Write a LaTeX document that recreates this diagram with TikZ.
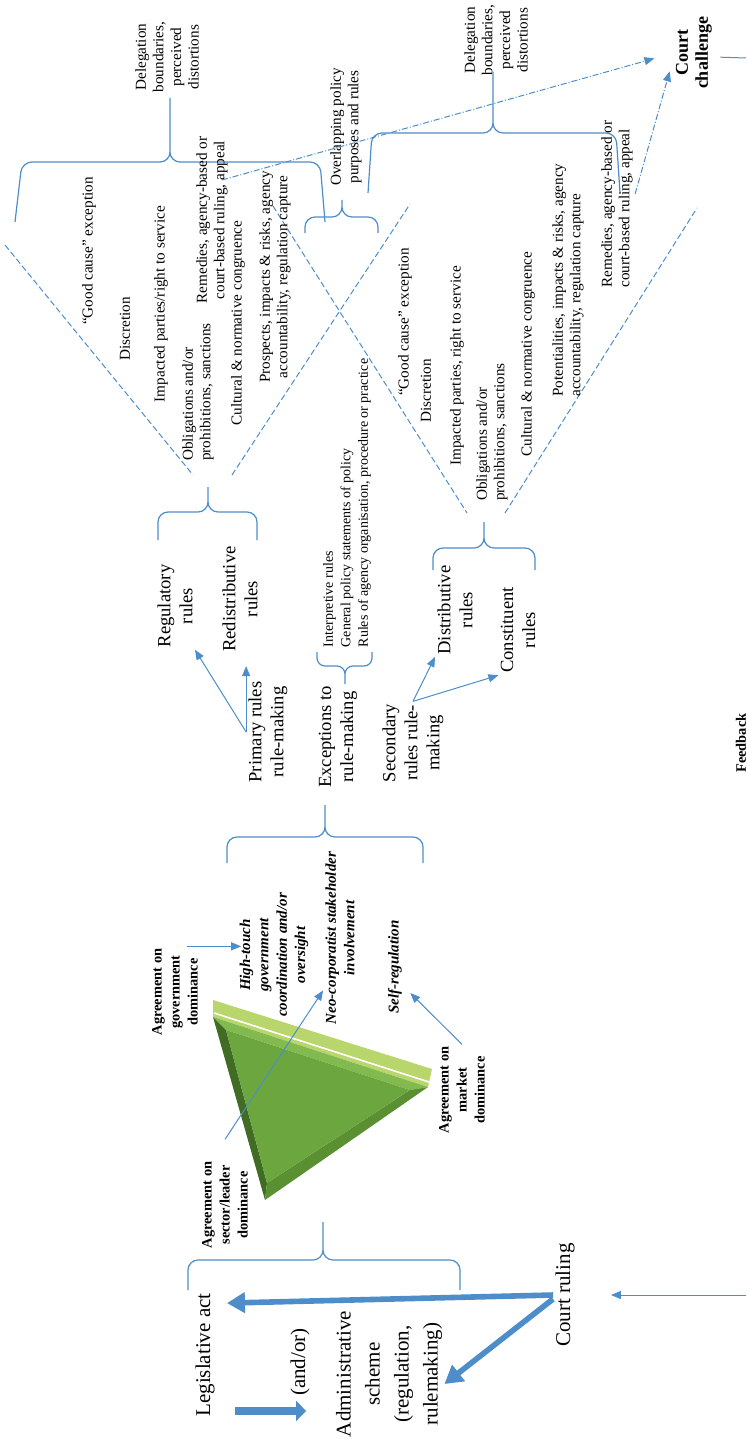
\documentclass[tikz,border=0pt]{standalone}
\usepackage{fontspec}
\setmainfont{Liberation Serif}
\usetikzlibrary{arrows.meta,calc}

\definecolor{lineblue}{RGB}{77,141,201}
\definecolor{stripgreen}{RGB}{184,214,108}
\definecolor{triface}{RGB}{108,166,62}
\definecolor{tritop}{RGB}{130,186,80}
\definecolor{trileft}{RGB}{64,108,36}
\definecolor{triright}{RGB}{90,144,50}

\tikzset{
  txt/.style={rotate=90, align=center, inner sep=1pt},
  txtbig/.style={txt, font=\fontsize{10.5}{14.5}\selectfont},
  txtmid/.style={txt, font=\fontsize{9.3}{11}\selectfont},
  txtsml/.style={txt, font=\fontsize{7.6}{8.8}\selectfont},
  txttiny/.style={txt, font=\fontsize{7}{8.7}\selectfont},
  txtagr/.style={txt, font=\bfseries\fontsize{7.2}{9}\selectfont},
  txtgov/.style={txt, font=\bfseries\itshape\fontsize{7.5}{9.2}\selectfont},
  txtchal/.style={txt, font=\bfseries\fontsize{9}{10}\selectfont},
  brc/.style={lineblue, line width=0.6pt, rounded corners=5pt},
  vline/.style={lineblue, line width=0.5pt, dash pattern=on 3pt off 1.5pt},
  thinarr/.style={lineblue, line width=0.5pt, -{Triangle[length=5pt,width=4pt]}},
  dotarr/.style={lineblue, line width=0.5pt,
    dash pattern=on 3pt off 1pt on 0.5pt off 1pt, -{Triangle[length=5pt,width=4pt]}},
  fatarr/.style={lineblue, line width=2.8pt, -{Triangle[length=9pt,width=10pt]}},
  blockarr/.style={lineblue, line width=4pt, -{Triangle[length=5pt,width=10pt]}}
}

\begin{document}
\begin{tikzpicture}[x=0.5pt,y=-0.5pt]
  \useasboundingbox (0,0) rectangle (746,1439);

  \node[txtsml] (deleg1) at (167,57) {Delegation\\boundaries,\\perceived\\distortions};
  \node[txtsml] (deleg2) at (496,40) {Delegation\\boundaries,\\perceived\\distortions};
  \node[txtchal] (chal) at (694,53) {Court\\challenge};
  \node[txtsml] (ovl) at (346,127) {Overlapping policy\\purposes and rules};

  \draw[brc]
    (15,222) -- (22,162) -- (170,162) -- (170,98)
    (325,222) -- (320,162) -- (170,162) -- (170,98);
  \draw[brc]
    (368,193) -- (372,133) -- (493,133) -- (493,72)
    (620,193) -- (616,133) -- (493,133) -- (493,72);
  \draw[brc]
    (305,233) -- (305,217) -- (342,217) -- (342,200)
    (378,233) -- (378,217) -- (342,217) -- (342,200);

  \draw[vline] (5,245) -- (193,475);
  \draw[vline] (232,475) -- (410,204);
  \draw[vline] (273,206) -- (467,513);
  \draw[vline] (505,513) -- (697,208);

  \node[txtsml] (good1) at (89,251) {``Good cause'' exception};
  \node[txtsml] (disc1) at (125,329) {Discretion};
  \node[txtsml] (imp1) at (161,304) {Impacted parties/right to service};
  \node[txtsml, align=left] (obl1) at (198,392) {Obligations and/or\\prohibitions, sanctions};
  \node[txtsml] (rem1) at (212,220) {Remedies, agency-based or\\court-based ruling, appeal};
  \node[txtsml] (cult1) at (238,323) {Cultural \& normative congruence};
  \node[txtsml] (pros1) at (275,277) {Prospects, impacts \& risks, agency\\accountability, regulation capture};

  \node[txtsml] (good2) at (405,322) {``Good cause'' exception};
  \node[txtsml] (disc2) at (426,391) {Discretion};
  \node[txtsml] (imp2) at (457,366) {Impacted parties, right to service};
  \node[txtsml, align=left] (obl2) at (492,432) {Obligations and/or\\prohibitions, sanctions};
  \node[txtsml] (cult2) at (528,354) {Cultural \& normative congruence};
  \node[txtsml, align=left] (pot2) at (568,280) {Potentialities, impacts \& risks, agency\\accountability, regulation capture};
  \node[txtsml, align=left] (rem2) at (617,204) {Remedies, agency-based or\\court-based ruling, appeal};

  \draw[dotarr, shorten >=10pt] ([shift={(5pt,20pt)}]rem1.center) -- (chal.north);
  \draw[dotarr] ([yshift=5pt]rem2.south) -- ([shift={(-2pt,10pt)}]chal.north west);
  \coordinate (fbout) at (746,58);
  \draw[lineblue, line width=0.5pt, shorten <=3pt] ([yshift=-2pt]chal.south) -- (fbout);

  \draw[brc]
    (158,540) -- (158,512) -- (208,512) -- (208,487)
    (257,540) -- (257,512) -- (208,512) -- (208,487);
  \draw[brc, rounded corners=4pt]
    (317,652) -- (317,666) -- (345,666) -- (345,684)
    (372,652) -- (372,666) -- (345,666) -- (345,684);
  \draw[brc]
    (433,570) -- (433,548) -- (484,548) -- (484,522)
    (535,570) -- (535,548) -- (484,548) -- (484,522);
  \draw[brc]
    (227,863) -- (227,837) -- (325,837) -- (325,805)
    (423,863) -- (423,837) -- (325,837) -- (325,805);
  \draw[brc]
    (188,1290) -- (188,1260) -- (323,1260) -- (323,1222)
    (460,1290) -- (460,1260) -- (323,1260) -- (323,1222);

  \node[txtmid] (regu) at (175,606) {Regulatory\\rules};
  \node[txtmid] (redi) at (240,599) {Redistributive\\rules};
  \node[txtmid] (prim) at (268,732) {Primary rules\\rule-making};
  \node[txttiny, align=left] (interp) at (347,503) {Interpretive rules\\General policy statements of policy\\Rules of agency organisation, procedure or practice};
  \node[txtmid] (exc) at (338,737) {Exceptions to\\rule-making};
  \node[txtmid] (sec) at (413,743) {Secondary\\rules rule-\\making};
  \node[txtmid] (dist) at (455,610) {Distributive\\rules};
  \node[txtmid] (cons) at (518,630) {Constituent\\rules};

  \draw[thinarr] (prim.north) -- (regu.south west);
  \draw[thinarr, shorten >=6pt] (prim.north) -- (prim.north |- redi.west);
  \draw[thinarr] (sec.east) -- (dist.north west);
  \draw[thinarr] (sec.east) -- (cons.north west);

  \fill[stripgreen] (213,1000) -- (432,1069) -- (428,1087) -- (213,1017) -- cycle;
  \draw[white, line width=0.8pt] (214,1013) -- (429,1082);
  \fill[tritop] (213,1017) -- (428,1087) -- (410,1090) -- (226,1030) -- cycle;
  \fill[trileft] (213,1017) -- (226,1030) -- (267,1183) -- (265,1200) -- cycle;
  \fill[triright] (428,1087) -- (265,1200) -- (267,1183) -- (410,1090) -- cycle;
  \fill[triface] (226,1030) -- (410,1090) -- (267,1183) -- cycle;

  \node[txtagr] (agov) at (175,992) {Agreement on\\government\\dominance};
  \node[txtagr] (asec) at (225,1205) {Agreement on\\sector/leader\\dominance};
  \node[txtagr] (amkt) at (462,1090) {Agreement on\\market\\dominance};
  \node[txtgov] (hitch) at (274,955) {High-touch\\government\\coordination and/or\\oversight};
  \node[txtgov] (neo) at (340,938) {Neo-corporatist stakeholder\\involvement};
  \node[txtgov] (self) at (395,967) {Self-regulation};

  \draw[thinarr, shorten >=4pt] ([xshift=6pt]agov.east) -- ([xshift=6pt]agov.east -| hitch.north);
  \draw[thinarr] ([yshift=10pt]asec.east) -- ([yshift=18pt]neo.north west);
  \draw[thinarr] (amkt.east) -- ([shift={(3pt,-13pt)}]self.south);

  \node[txtagr] (fb) at (741,743) {Feedback};

  \node[txtbig] (court) at (565,1295) {Court ruling};
  \node[txtbig] (legis) at (205,1355) {Legislative act};
  \node[txtbig] (andor) at (300,1362) {(and/or)};
  \node[txtbig] (admin) at (389,1374) {Administrative\\scheme\\(regulation,\\rulemaking)};

  \draw[fatarr] (court.north) -- ([shift={(5pt,-6pt)}]legis.south east);
  \draw[fatarr] ([yshift=-2pt]court.north) -- ([yshift=-5pt]admin.south);
  \draw[blockarr]
    ([shift={(9pt,4pt)}]legis.south west) -- ([shift={(9pt,4pt)}]legis.south west -| andor.north);
  \coordinate (fbin) at (746,1295);
  \draw[thinarr, shorten >=17pt] (fbin) -- (court);
\end{tikzpicture}
\end{document}
